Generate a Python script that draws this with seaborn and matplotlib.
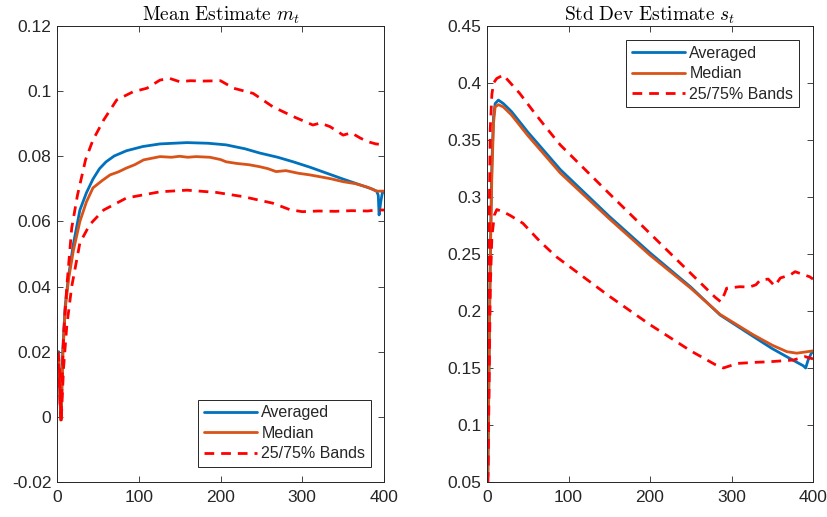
import matplotlib
matplotlib.use("Agg")
import matplotlib.pyplot as plt
import seaborn as sns
import numpy as np
import pandas as pd

# ---------------- data ----------------
# Left panel: Mean estimate m_t
m_avg_x = [1, 2, 3, 4, 5, 7, 10, 14, 20, 28, 36, 44, 52, 60, 70, 85, 105, 126, 159, 185, 207,
           230, 248, 270, 289, 310, 330, 350, 371, 385, 391, 393, 394, 396, 398, 400]
m_avg_y = [0.018, 0.020, 0.012, 0.004, 0.000, 0.020, 0.034, 0.043, 0.053, 0.0635, 0.0688, 0.0730,
           0.0762, 0.0783, 0.0801, 0.0817, 0.0830, 0.0838, 0.0842, 0.0840, 0.0835, 0.0823, 0.0810,
           0.0797, 0.0783, 0.0766, 0.0748, 0.0730, 0.0712, 0.0700, 0.0693, 0.0680, 0.0620, 0.0660,
           0.0688, 0.0690]

m_med_x = [1, 2, 3, 4, 5, 7, 10, 14, 20, 28, 36, 44, 55, 65, 75, 85, 95, 106, 116, 126, 140,
           150, 160, 170, 187, 200, 207, 220, 235, 248, 258, 268, 280, 295, 309, 320, 335, 350,
           365, 380, 391, 400]
m_med_y = [0.020, 0.018, 0.012, 0.003, -0.001, 0.018, 0.033, 0.042, 0.051, 0.060, 0.066, 0.0703,
           0.0725, 0.0743, 0.0752, 0.0764, 0.0774, 0.0789, 0.0794, 0.0799, 0.0797, 0.0800, 0.0797,
           0.0799, 0.0797, 0.0790, 0.0783, 0.0778, 0.0774, 0.0768, 0.0762, 0.0753, 0.0756, 0.0748,
           0.0743, 0.0738, 0.0731, 0.0722, 0.0716, 0.0705, 0.0693, 0.0693]

m_up_x = [1, 2, 3, 4, 5, 8, 12, 18, 25, 35, 44, 57, 73, 93, 110, 126, 138, 150, 163, 180,
          200, 216, 240, 264, 289, 313, 322, 334, 350, 360, 371, 380, 390, 400]
m_up_y = [0.020, 0.018, 0.015, 0.006, 0.000, 0.025, 0.040, 0.058, 0.068, 0.079, 0.085, 0.0911,
          0.0973, 0.0998, 0.1009, 0.1034, 0.1039, 0.1029, 0.1032, 0.1031, 0.1032, 0.1009, 0.0993,
          0.0952, 0.0922, 0.0896, 0.0902, 0.0891, 0.0865, 0.0872, 0.0856, 0.0845, 0.0838, 0.0835]

m_lo_x = [1, 2, 3, 4, 5, 8, 12, 18, 28, 40, 57, 85, 126, 159, 195, 228, 264, 285, 300, 320,
          340, 360, 380, 390, 400]
m_lo_y = [0.015, 0.016, 0.010, 0.002, -0.002, 0.015, 0.028, 0.040, 0.0534, 0.059, 0.0635, 0.0672,
          0.0691, 0.0696, 0.0689, 0.0676, 0.0656, 0.0636, 0.0630, 0.0632, 0.0631, 0.0633, 0.0632,
          0.0635, 0.0635]

# Right panel: Std dev estimate s_t
s_avg_x = [1, 2, 3, 4, 5, 6, 8, 10, 14, 20, 30, 50, 90, 150, 200, 250, 286, 327, 350, 370,
           388, 391, 394, 398, 400]
s_avg_y = [0.055, 0.12, 0.19, 0.245, 0.29, 0.33, 0.37, 0.382, 0.385, 0.382, 0.375, 0.357, 0.324,
           0.283, 0.251, 0.221, 0.1965, 0.1775, 0.167, 0.159, 0.152, 0.150, 0.157, 0.163, 0.164]

s_med_x = [1, 2, 3, 4, 5, 6, 8, 10, 14, 20, 30, 50, 90, 150, 200, 250, 286, 327, 350, 368,
           380, 390, 400]
s_med_y = [0.055, 0.12, 0.186, 0.24, 0.285, 0.32, 0.365, 0.379, 0.381, 0.379, 0.372, 0.354,
           0.321, 0.281, 0.249, 0.220, 0.197, 0.179, 0.170, 0.1643, 0.163, 0.164, 0.165]

s_up_x = [1, 2, 3, 4, 6, 8, 12, 20, 40, 57, 73, 90, 150, 200, 250, 280, 287, 292, 294, 310,
          322, 330, 335, 345, 353, 360, 372, 378, 388, 396, 400]
s_up_y = [0.05, 0.15, 0.30, 0.36, 0.39, 0.400, 0.404, 0.407, 0.391, 0.375, 0.3605, 0.3456,
          0.303, 0.268, 0.233, 0.212, 0.208, 0.216, 0.220, 0.2213, 0.2210, 0.2230, 0.2270, 0.2280,
          0.2220, 0.2290, 0.2316, 0.2345, 0.2320, 0.2300, 0.2280]

s_lo_x = [1, 2, 3, 4, 6, 9, 12, 20, 28, 44, 65, 85, 150, 200, 250, 280, 290, 307, 330, 347,
          376, 390, 400]
s_lo_y = [0.05, 0.10, 0.16, 0.22, 0.265, 0.284, 0.289, 0.287, 0.284, 0.277, 0.261, 0.2476,
          0.213, 0.188, 0.165, 0.153, 0.150, 0.154, 0.155, 0.1555, 0.157, 0.160, 0.158]

legend_labels = ["Averaged", "Median", "25/75% Bands"]
xticks = [0, 100, 200, 300, 400]
m_yticks = [-0.02, 0, 0.02, 0.04, 0.06, 0.08, 0.1, 0.12]
m_yticklabels = ["-0.02", "0", "0.02", "0.04", "0.06", "0.08", "0.1", "0.12"]
s_yticks = [0.05, 0.1, 0.15, 0.2, 0.25, 0.3, 0.35, 0.4, 0.45]
s_yticklabels = ["0.05", "0.1", "0.15", "0.2", "0.25", "0.3", "0.35", "0.4", "0.45"]
titles = [r"$\mathrm{Mean\ Estimate}\ m_t$", r"$\mathrm{Std\ Dev\ Estimate}\ s_t$"]

# ---------------- style ----------------
sns.set_theme(style="white")
plt.rcParams["font.family"] = ["Liberation Sans", "DejaVu Sans"]
plt.rcParams["mathtext.fontset"] = "cm"

BLUE = "#0072BD"
ORANGE = "#D95319"
RED = "#FF0000"
AXC = "#262626"

fig = plt.figure(figsize=(8.27, 5.17), dpi=100)
ax1 = fig.add_axes([57 / 827, 35 / 517, 327 / 827, 456 / 517])
ax2 = fig.add_axes([487 / 827, 35 / 517, 326 / 827, 456 / 517])


def draw(ax, avg, med, up, lo):
    sns.lineplot(x=avg[0], y=avg[1], ax=ax, color=BLUE, linewidth=2, label=legend_labels[0])
    sns.lineplot(x=med[0], y=med[1], ax=ax, color=ORANGE, linewidth=2, label=legend_labels[1])
    sns.lineplot(x=up[0], y=up[1], ax=ax, color=RED, linewidth=2, label=legend_labels[2])
    sns.lineplot(x=lo[0], y=lo[1], ax=ax, color=RED, linewidth=2)
    for ln in ax.get_lines()[2:4]:
        ln.set_dashes((3.5, 2.5))


draw(ax1, (m_avg_x, m_avg_y), (m_med_x, m_med_y), (m_up_x, m_up_y), (m_lo_x, m_lo_y))
draw(ax2, (s_avg_x, s_avg_y), (s_med_x, s_med_y), (s_up_x, s_up_y), (s_lo_x, s_lo_y))

for ax, yt, ytl, ylim, title in [
    (ax1, m_yticks, m_yticklabels, (-0.02, 0.12), titles[0]),
    (ax2, s_yticks, s_yticklabels, (0.05, 0.45), titles[1]),
]:
    ax.set_xlim(0, 400)
    ax.set_ylim(*ylim)
    ax.set_xticks(xticks)
    ax.set_xticklabels([str(v) for v in xticks])
    ax.set_yticks(yt)
    ax.set_yticklabels(ytl)
    ax.set_xlabel("")
    ax.set_ylabel("")
    ax.tick_params(direction="in", length=4, width=0.6, colors=AXC, labelsize=12.5,
                   top=True, right=True, bottom=True, left=True, pad=4)
    ax.tick_params(axis="x", pad=6)
    for sp in ax.spines.values():
        sp.set_visible(True)
        sp.set_color(AXC)
        sp.set_linewidth(0.7)
    ax.set_title(title, fontsize=14, color="black", pad=4)
    ax.grid(False)

leg_kw = dict(frameon=True, fancybox=False, edgecolor=AXC, framealpha=1, fontsize=11.5,
              handlelength=3.3, handletextpad=0.3, borderpad=0.35, labelspacing=0.35,
              borderaxespad=0)
l1 = ax1.legend(loc="lower right", bbox_to_anchor=(0.96, 0.033), **leg_kw)
l2 = ax2.legend(loc="upper right", bbox_to_anchor=(0.957, 0.969), **leg_kw)
for lg in (l1, l2):
    lg.get_frame().set_linewidth(0.7)
    for h in lg.get_lines():
        h.set_linewidth(2)
    lg.get_lines()[2].set_dashes((3.5, 2.5))

fig.savefig("out.png", dpi=100)
